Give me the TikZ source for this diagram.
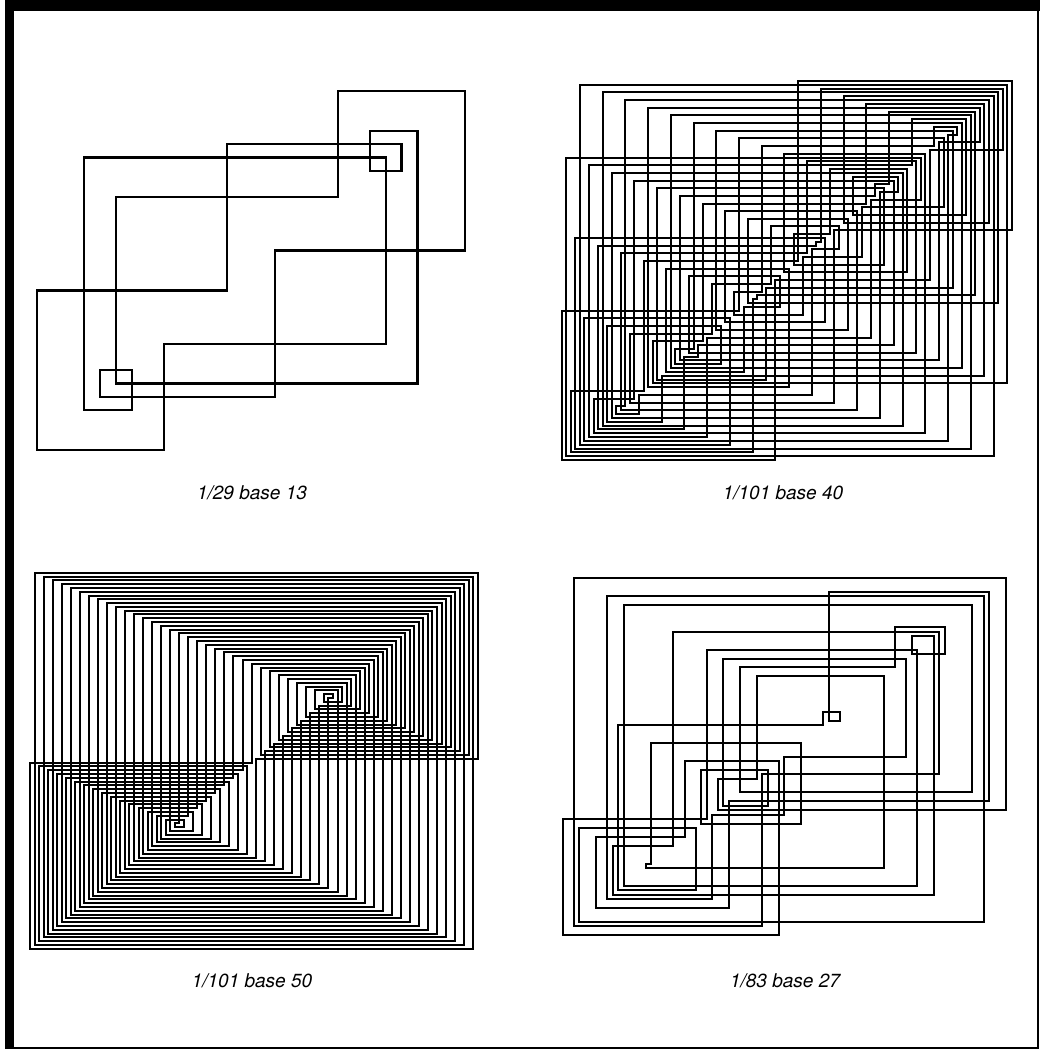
\documentclass[tikz,border=0pt]{standalone}
\usepackage{fontspec}
\setmainfont{TeX Gyre Heros}
\tikzset{
    web/.style={line width=2pt, line cap=rect, line join=miter},
    caption/.style={font=\fontsize{19}{22}\selectfont\itshape, inner sep=0pt}
}
% remainders of 1/p in base b over one period -> \rlist
\newcommand{\remlist}[3]{%
    \xdef\rr{1}%
    \foreach \k in {1,...,#3}{%
        \pgfmathtruncatemacro{\rn}{mod(\rr*#2,#1)}%
        \ifnum\k=1 \xdef\rlist{\rn}\else\xdef\rlist{\rlist,\rn}\fi
        \xdef\rr{\rn}%
    }%
}

\begin{document}
\begin{tikzpicture}[x=1pt, y=-1pt]
    \useasboundingbox (0,0) rectangle (1040,1050);
    % frame
    \fill (5,0) rectangle (1040,11);
    \fill (5,0) rectangle (14,1049);
    \draw[line width=1.5pt] (1038,0) -- (1038,1048) -- (9,1048);

    % 1/29 base 13
    \begin{scope}[shift={(20.84,463.30)}, x=15.863pt, y=13.296pt]
        \remlist{29}{13}{14}
        \draw[web, line width=2.2pt] (1,1) \foreach \r in \rlist {|- (\r,\r)};
    \end{scope}
    \node[caption] (cap29) at (252,493) {1/29 base 13};

    % 1/101 base 40
    \begin{scope}[shift={(557.15,463.83)}, x=4.5455pt, y=3.8283pt]
        \remlist{101}{40}{100}
        \draw[web] (1,1) \foreach \r in \rlist {|- (\r,\r)};
    \end{scope}
    \node[caption] (cap101a) at (783,493) {1/101 base 40};

    % 1/101 base 50
    \begin{scope}[shift={(25.48,952.6)}, x=4.522pt, y=3.799pt]
        \remlist{101}{50}{100}
        \draw[web] (1,1) \foreach \r in \rlist {|- (\r,\r)};
    \end{scope}
    \node[caption] (cap101b) at (252,981) {1/101 base 50};

    % 1/83 base 27
    \begin{scope}[shift={(557.16,939.46)}, x=5.5375pt, y=4.459pt]
        \remlist{83}{27}{41}
        \draw[web] (1,1) \foreach \r in \rlist {|- (\r,\r)};
    \end{scope}
    \node[caption] (cap83) at (785,981) {1/83 base 27};
\end{tikzpicture}
\end{document}
